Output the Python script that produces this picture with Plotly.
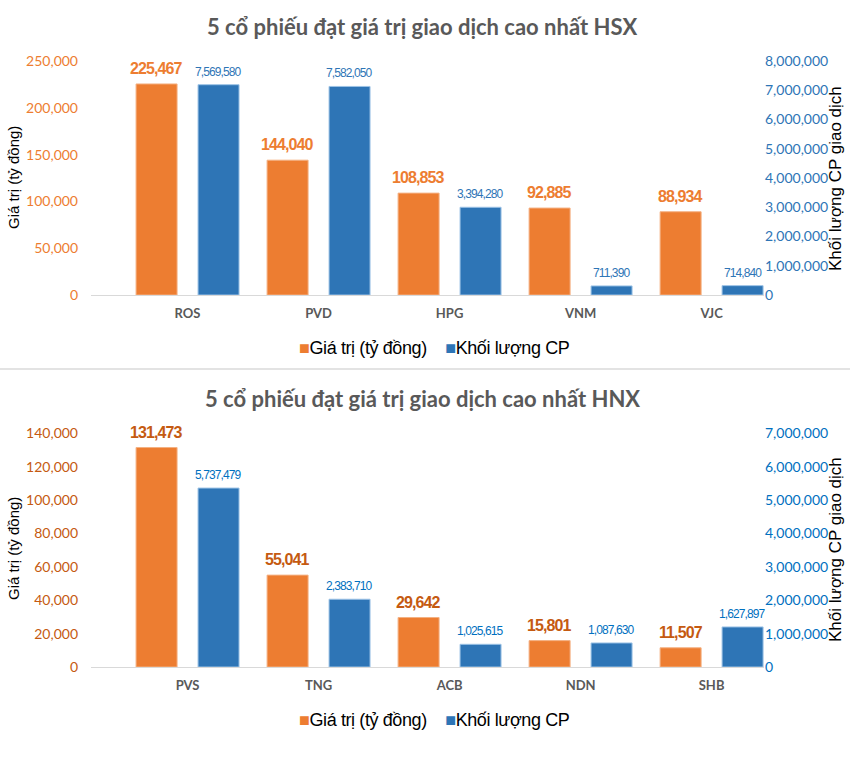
import plotly.graph_objects as go

# ---------------- data ----------------
hsx_codes = ["ROS", "PVD", "HPG", "VNM", "VJC"]
hsx_value = [225467, 144040, 108853, 92885, 88934]            # Giá trị (tỷ đồng)
hsx_volume_bar = [7190000, 7130000, 3000000, 310000, 320000]   # bar heights as drawn
hsx_volume_label = ["7,569,580", "7,582,050", "3,394,280", "711,390", "714,840"]

hnx_codes = ["PVS", "TNG", "ACB", "NDN", "SHB"]
hnx_value = [131473, 55041, 29642, 15801, 11507]
hnx_volume_bar = [5360000, 2030000, 680000, 720000, 1200000]
hnx_volume_label = ["5,737,479", "2,383,710", "1,025,615", "1,087,630", "1,627,897"]

title_hsx = "5 cổ phiếu đạt giá trị giao dịch cao nhất HSX"
title_hnx = "5 cổ phiếu đạt giá trị giao dịch cao nhất HNX"
name_value = "Giá trị (tỷ đồng)"
name_volume = "Khối lượng CP"
ytitle_left = "Giá trị (tỷ đồng)"
ytitle_right = "Khối lượng CP giao dịch"

# ---------------- style ----------------
W, H = 850, 774
ORANGE = "#ED7D31"
BLUE = "#2E75B6"
ORANGE_DARK = "#C55A11"
BLUE_BRIGHT = "#0070C0"
GRAY = "#595959"
SANS = "Liberation Sans, Arial, sans-serif"
CAL = "Lato, Carlito, Calibri, sans-serif"

def tight(t, ls):
    return f"<span style='letter-spacing:{ls}px'>{t}</span>"

BW = 0.313          # bar width (category units)
GAP = 0.160         # gap between the two bars of a category
OFF_O = -GAP / 2 - BW
OFF_B = GAP / 2

def px(x):
    return x / W

def py(y):
    return 1 - y / H

xdom = [px(91), px(764)]
xr = [-0.737, 4.40]

fig = go.Figure()

def add_panel(codes, vals, vol_bar, vol_lbl, xa, ya_l, ya_r, lab_o, lab_b):
    xs = list(range(len(codes)))
    fig.add_trace(go.Bar(x=xs, y=vals, name=name_value, xaxis=xa, yaxis=ya_l,
                         width=BW, offset=OFF_O,
                         marker=dict(color=ORANGE, line=dict(color="#F4B183", width=1)),
                         showlegend=False, hoverinfo="x+y"))
    fig.add_trace(go.Bar(x=xs, y=vol_bar, name=name_volume, xaxis=xa, yaxis=ya_r,
                         width=BW, offset=OFF_B,
                         marker=dict(color=BLUE, line=dict(color="#9DC3E6", width=1)),
                         showlegend=False, hoverinfo="x+y"))
    for i, v in enumerate(vals):
        fig.add_annotation(x=i + OFF_O + BW / 2, y=v, xref=xa, yref=ya_l,
                           text=tight(f"{v:,}", -0.9), showarrow=False,
                           yanchor="bottom", yshift=5,
                           font=dict(family=SANS, size=16, color=lab_o, weight="bold"))
    for i, (v, t) in enumerate(zip(vol_bar, vol_lbl)):
        fig.add_annotation(x=i + OFF_B + BW / 2, y=v, xref=xa, yref=ya_r,
                           text=tight(t, -0.9), showarrow=False, yanchor="bottom", yshift=4,
                           font=dict(family=SANS, size=12, color=lab_b))

add_panel(hsx_codes, hsx_value, hsx_volume_bar, hsx_volume_label, "x", "y", "y2", ORANGE, BLUE)
add_panel(hnx_codes, hnx_value, hnx_volume_bar, hnx_volume_label, "x2", "y3", "y4", ORANGE_DARK, BLUE_BRIGHT)

xcommon = dict(domain=xdom, range=xr, tickmode="array", tickvals=list(range(5)),
               showline=True, linecolor="#D9D9D9", linewidth=1, showgrid=False,
               zeroline=False, ticks="", ticklabelstandoff=6, automargin=False,
               tickfont=dict(family=CAL, size=13, color=GRAY, weight="bold"),
               fixedrange=True)

ycommon = dict(tickformat=",", showgrid=False, zeroline=False, showline=False,
               ticks="", automargin=False, fixedrange=True)

ytop = [py(295), py(61)]
ybot = [py(667), py(433.3)]

fig.update_layout(
    width=W, height=H,
    margin=dict(l=0, r=0, t=0, b=0, autoexpand=False),
    paper_bgcolor="white", plot_bgcolor="white",
    barmode="overlay",
    showlegend=False,
    xaxis=dict(**xcommon, ticktext=hsx_codes, anchor="y"),
    xaxis2=dict(**xcommon, ticktext=hnx_codes, anchor="y3"),
    yaxis=dict(**ycommon, domain=ytop, range=[0, 250000], dtick=50000,
               ticklabelstandoff=12, anchor="x",
               tickfont=dict(family=CAL, size=14, color=ORANGE)),
    yaxis2=dict(**ycommon, domain=ytop, range=[0, 8000000], dtick=1000000,
                overlaying="y", side="right", anchor="x", ticklabelstandoff=0,
                tickfont=dict(family=CAL, size=14, color=BLUE)),
    yaxis3=dict(**ycommon, domain=ybot, range=[0, 140000], dtick=20000,
                ticklabelstandoff=12, anchor="x2",
                tickfont=dict(family=CAL, size=14, color=ORANGE_DARK)),
    yaxis4=dict(**ycommon, domain=ybot, range=[0, 7000000], dtick=1000000,
                overlaying="y3", side="right", anchor="x2", ticklabelstandoff=0,
                tickfont=dict(family=CAL, size=14, color=BLUE_BRIGHT)),
)

# titles
for t, yc in [(title_hsx, 27), (title_hnx, 398)]:
    fig.add_annotation(text=f"<b>{t}</b>", x=px(422), y=py(yc), xref="paper", yref="paper",
                       showarrow=False, xanchor="center", yanchor="middle",
                       font=dict(family=CAL, size=22, color=GRAY))

# axis titles
for yc in [178, 549]:
    fig.add_annotation(text=ytitle_left, x=px(13), y=py(yc), xref="paper", yref="paper",
                       showarrow=False, textangle=-90, xanchor="center", yanchor="middle",
                       font=dict(family=SANS, size=15, color="black"))
    fig.add_annotation(text=ytitle_right, x=px(835), y=py(yc + 1), xref="paper", yref="paper",
                       showarrow=False, textangle=-90, xanchor="center", yanchor="middle",
                       font=dict(family=SANS, size=17, color="black"))

# legends (drawn as text rows)
leg_text = tight(f"<span style='color:{ORANGE}'>■</span>{name_value}"
                 f"&nbsp;&nbsp;&nbsp;&nbsp;<span style='color:{BLUE}'>■</span>{name_volume}", -0.4)
for yc in [348, 720]:
    fig.add_annotation(text=leg_text, x=px(434), y=py(yc), xref="paper", yref="paper",
                       showarrow=False, xanchor="center", yanchor="middle",
                       font=dict(family=SANS, size=18, color="black"))

# separator line between the two charts
fig.add_shape(type="line", xref="paper", yref="paper", x0=0, x1=1, y0=py(369), y1=py(369),
              line=dict(color="#E3E3E3", width=2))

fig.write_html("out.html", config={"displayModeBar": False},
               post_script="document.body.style.margin='0';document.body.style.padding='0';")
